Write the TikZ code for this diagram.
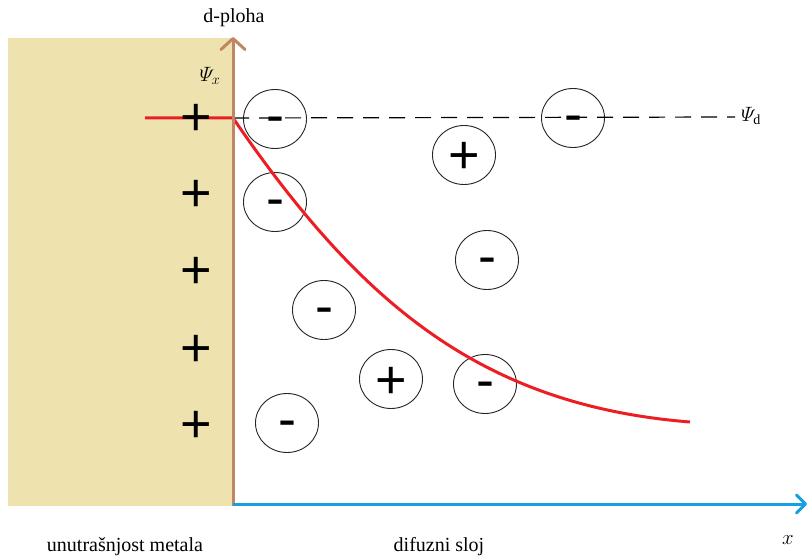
\documentclass[tikz,border=0pt]{standalone}
\usepackage{amsmath}
\usepackage{fontspec}
\setmainfont{Liberation Serif}
\newfontfamily\signfont{Liberation Sans}
\usetikzlibrary{arrows.meta,shapes.geometric}

\definecolor{metalcol}{RGB}{238,226,175}
\definecolor{plohacol}{RGB}{192,134,100}
\definecolor{xcol}{RGB}{22,160,226}
\definecolor{potcol}{RGB}{236,30,36}

\tikzset{
  ion/.style={draw=black!85, line width=0.9pt, ellipse, minimum width=63pt, minimum height=59pt,
    inner sep=0pt, font=\signfont\fontsize{54}{54}\selectfont},
  posion/.style={ion, text height=38pt, text depth=0pt},
  negion/.style={ion, text height=29pt, text depth=0pt},
  metplus/.style={inner sep=0pt, font=\signfont\fontsize{54}{54}\selectfont, text height=38pt, text depth=0pt},
  lab/.style={inner sep=0pt, font=\fontsize{20}{22}\selectfont},
}

\begin{document}
\begin{tikzpicture}[x=1pt, y=-1pt, >=Stealth]
    \useasboundingbox (0,0) rectangle (809,556);

    % 金属内部
    \fill[metalcol] (8,38) rectangle (233,506);

    % 坐标点
    \coordinate (origin) at (233,506);
    \coordinate (dtop) at (233,37);
    \coordinate (xstart) at (233,504);
    \coordinate (xend) at (807,504);
    \coordinate (redstart) at (145,118);
    \coordinate (surf) at (233,118);
    \coordinate (redend) at (690,422);
    \coordinate (dashend) at (735,117);

    % 扩散层中的离子
    \node[negion] (n1) at (275,119) {-};
    \node[negion] (n2) at (573,118) {-};
    \node[posion] (p1) at (464,155) {+};
    \node[negion] (n3) at (275,202) {-};
    \node[negion] (n4) at (487,260) {-};
    \node[negion] (n5) at (324,310) {-};
    \node[posion] (p2) at (391,379) {+};
    \node[negion] (n6) at (485,384) {-};
    \node[negion] (n7) at (287,423) {-};

    % Psi_d 虚线
    \draw[line width=1.2pt, dash pattern=on 16pt off 10pt] (surf) -- (dashend);

    % 电势曲线
    \draw[potcol, line width=3pt] (redstart) -- (surf)
        .. controls (358,300) and (478,405) .. (redend);

    % 金属表面的正电荷
    \foreach \y [count=\i] in {117,193,270,347,423} {
        \node[metplus] (m\i) at (196,\y) {+};
    }

    % 坐标轴
    \draw[plohacol, line width=3pt, -{Straight Barb[length=11pt, width=24pt, round]}] (origin) -- (dtop);
    \draw[xcol, line width=3pt, -{Straight Barb[length=9pt, width=18pt, round]}] (xstart) -- (xend);

    % 文字
    \node[lab] (dploha) at (234,18) {d-ploha};
    \node[lab] (psix) at (210,76) {$\varPsi_x$};
    \node[lab] (psid) at (751,116) {$\varPsi_{\mathrm{d}}$};
    \node[lab] (xlab) at (788,540) {$x$};
    \node[lab, anchor=base] (metal) at (125,551) {unutrašnjost metala};
    \node[lab, anchor=base] (layer) at (439,551) {difuzni sloj};
\end{tikzpicture}
\end{document}
